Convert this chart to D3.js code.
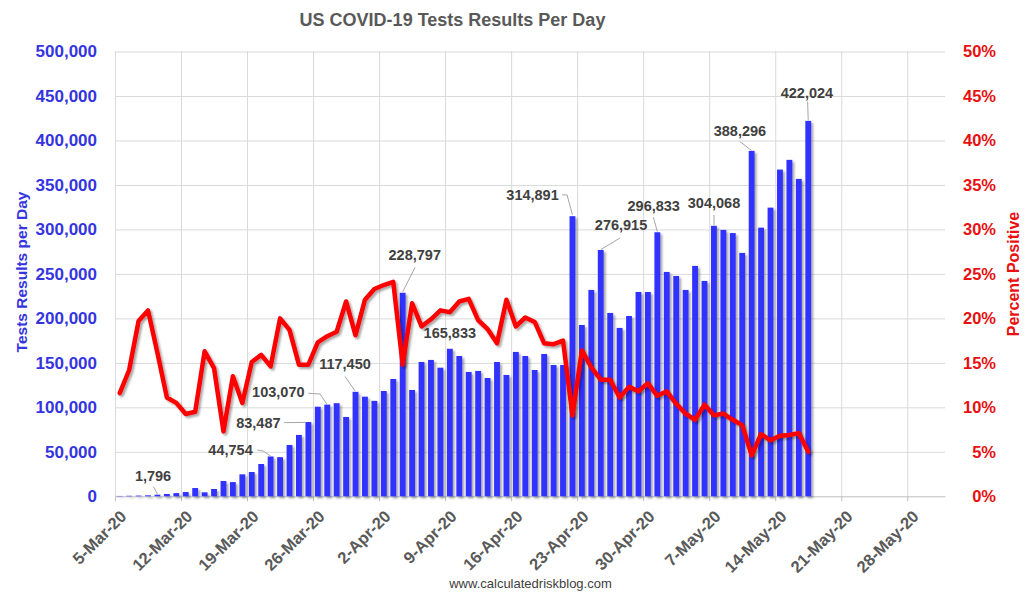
<!DOCTYPE html>
<html><head><meta charset="utf-8">
<script src="https://cdn.jsdelivr.net/npm/d3@7"></script>
<style>body{margin:0;background:#fff} svg{display:block;font-family:"Liberation Sans",Arial,sans-serif}</style>
</head><body>
<svg id="chart" width="1033" height="600"></svg>
<script>
// ---------- DATA ----------
const startDate = "2020-03-05";
const axisEndDate = "2020-06-01";
const tests = [
  400, 600, 800, 1100, 1796, 2600, 3600, 4800, 9300, 4500,
  8200, 17200, 16000, 24700, 27300, 36300, 44754, 44000, 57700, 69000,
  83487, 100700, 103070, 104700, 89200, 117450, 112000, 107300, 118400, 131900,
  228797, 119500, 151000, 153300, 144600, 165833, 157700, 139800, 140900, 133000,
  151000, 136400, 162300, 157700, 142000, 160000, 147600, 147600, 314891, 192600,
  232000, 276915, 206100, 189300, 202700, 229700, 229700, 296833, 252200, 247700,
  232000, 259000, 242100, 304068, 299500, 295900, 273600, 388296, 302000, 324500,
  367300, 378200, 356800, 422024
];
const pctPositive = [
  11.6, 14.2, 19.7, 20.9, 16.1, 11.1, 10.5, 9.25, 9.5, 16.3,
  14.4, 7.3, 13.5, 10.5, 15.1, 15.9, 14.6, 20.0, 18.7, 14.8,
  14.8, 17.3, 18.0, 18.5, 21.9, 18.1, 22.1, 23.3, 23.75, 24.1,
  14.8, 21.7, 19.1, 19.9, 20.9, 20.7, 21.9, 22.2, 19.8, 18.8,
  17.2, 22.1, 19.1, 20.1, 19.6, 17.2, 17.1, 17.5, 9.1, 16.4,
  14.5, 13.1, 13.1, 11.1, 12.3, 11.8, 12.7, 11.3, 11.8, 10.4,
  9.3, 8.6, 10.3, 9.1, 9.3, 8.6, 8.0, 4.6, 7.0, 6.3,
  6.8, 6.9, 7.1, 5.0
];
const tickLabels = ["5-Mar-20","12-Mar-20","19-Mar-20","26-Mar-20","2-Apr-20","9-Apr-20","16-Apr-20",
  "23-Apr-20","30-Apr-20","7-May-20","14-May-20","21-May-20","28-May-20"];
const leftTicks = [0,50000,100000,150000,200000,250000,300000,350000,400000,450000,500000];
const rightTicks = [0,5,10,15,20,25,30,35,40,45,50];
const annotatedDays = [4,16,20,22,25,30,35,48,51,57,63,67,73];

// ---------- LAYOUT (label offsets relative to bar top) ----------
const annLayout = {
  4:  {tx:-4.4, ty:-14.2, lead:[[-4,-8],[0,-0.5]]},
  16: {tx:-40.1, ty:-1, lead:[[-13.3,-6.5],[-7.6,-5.5],[0,-0.5]]},
  20: {tx:-50, ty:5.5, lead:[[-24.3,0.6],[-3,0.4]]},
  22: {tx:-48.9, ty:-8.1, lead:[[-18.9,-11.3],[-7.2,-10.6],[-0.5,-0.6]]},
  25: {tx:-10.5, ty:-22.8, lead:[[-10.5,-15.3],[-0.5,-1]]},
  30: {tx:12.1, ty:-32.6, lead:[[12.4,-25.5],[0,-0.8]]},
  35: {tx:0, ty:-10.3, lead:null},
  48: {tx:-39.9, ty:-16.1, lead:[[-10.4,-21.3],[-5.4,-21.3],[0,-1.3]]},
  51: {tx:20.3, ty:-19.8, lead:[[19.3,-12],[0.3,-0.5]]},
  57: {tx:-3.6, ty:-21.1, lead:[[-4,-15],[0,-0.6]]},
  63: {tx:0.1, ty:-17.4, lead:[[0.1,-10.9],[0.1,-0.4]]},
  67: {tx:-11.7, ty:-15.2, lead:[[-11.7,-9.3],[-0.2,-0.5]]},
  73: {tx:-1.3, ty:-23.2, lead:[[-0.6,-19.3],[0,-0.3]]}
};

const L = 115, R = 945, T = 51.5, B = 496.3;
const svg = d3.select("#chart");
svg.append("rect").attr("width",1033).attr("height",600).attr("fill","#fff");

const defs = svg.append("defs");
const f = defs.append("filter").attr("id","shadow").attr("x","-30%").attr("y","-10%").attr("width","160%").attr("height","130%");
f.append("feDropShadow").attr("dx",2).attr("dy",2).attr("stdDeviation",1.2).attr("flood-color","#000").attr("flood-opacity",0.35);

const parse = d3.utcParse("%Y-%m-%d");
const d0 = parse(startDate);
const x = d3.scaleUtc().domain([d0, parse(axisEndDate)]).range([L, R]);
const days = tests.map((_, i) => d3.utcDay.offset(d0, i));
const dayW = x(d3.utcDay.offset(d0,1)) - x(d0);
const xc = d => x(d) + dayW/2;
const yL = d3.scaleLinear().domain([0,500000]).range([B,T]);
const yR = d3.scaleLinear().domain([0,50]).range([B,T]);
const tickDates = tickLabels.map(s => d3.utcParse("%d-%b-%y")(s));

// gridlines
const gH = svg.append("g").attr("transform",`translate(${L},0)`)
  .call(d3.axisLeft(yL).tickValues(leftTicks.slice(1)).tickSize(-(R-L)).tickFormat(""));
gH.select(".domain").remove();
gH.selectAll("line").attr("stroke","#D9D9D9");
const gV = svg.append("g").attr("transform",`translate(0,${B})`)
  .call(d3.axisBottom(x).tickValues(tickDates).tickSizeInner(-(B-T)).tickSizeOuter(0).tickFormat(""));
gV.select(".domain").remove();
gV.selectAll("line").attr("stroke","#D9D9D9");

// bottom axis
const gX = svg.append("g").attr("transform",`translate(0,${B})`)
  .call(d3.axisBottom(x).tickValues(tickDates).tickSizeInner(5).tickSizeOuter(0)
    .tickFormat((d,i) => tickLabels[i]));
gX.select(".domain").attr("stroke","#BFBFBF");
gX.selectAll("line").attr("stroke","#BFBFBF");
gX.selectAll("text")
  .attr("text-anchor","end").attr("fill","#595959")
  .style("font-size","16.5px").style("font-weight","bold")
  .attr("y",0).attr("dy","0.35em")
  .attr("transform","translate(8,17) rotate(-45)");

// left axis
const gY = svg.append("g").attr("transform",`translate(${L},0)`)
  .call(d3.axisLeft(yL).tickValues(leftTicks).tickSize(0).tickPadding(18).tickFormat(d3.format(",")));
gY.select(".domain").remove();
gY.selectAll("text").attr("fill","#3535E0").style("font-size","17px").style("font-weight","bold");

// right axis
const gR = svg.append("g").attr("transform",`translate(${R},0)`)
  .call(d3.axisRight(yR).tickValues(rightTicks).tickSize(0).tickFormat(d => d + "%"));
gR.select(".domain").remove();
gR.selectAll("text").attr("fill","#E81010").attr("text-anchor","end").attr("x",51)
  .style("font-size","16.5px").style("font-weight","bold");

// bars
const bw = dayW * 0.62;
svg.append("g").attr("filter","url(#shadow)")
  .selectAll("rect").data(tests).join("rect")
  .attr("x",(v,i) => xc(days[i]) - bw/2)
  .attr("y",v => yL(v))
  .attr("width",bw)
  .attr("height",v => B - yL(v))
  .attr("fill","#3333FF");

// line
const line = d3.line().x((p,i) => xc(days[i])).y(p => yR(p));
svg.append("path").datum(pctPositive)
  .attr("d",line).attr("fill","none").attr("stroke","#FF0000")
  .attr("stroke-width",4.5).attr("stroke-linejoin","round").attr("stroke-linecap","round")
  .attr("filter","url(#shadow)");

// annotations
const fmt = d3.format(",");
const ann = svg.append("g");
annotatedDays.forEach(i => {
  const bx = xc(days[i]), by = yL(tests[i]);
  const lay = annLayout[i];
  if (lay.lead) {
    ann.append("path")
      .attr("d", d3.line()(lay.lead.map(p => [bx + p[0], by + p[1]])))
      .attr("fill","none").attr("stroke","#A6A6A6").attr("stroke-width",1);
  }
  ann.append("text").attr("x",bx + lay.tx).attr("y",by + lay.ty)
    .attr("text-anchor","middle").attr("fill","#404040")
    .style("font-size","14.5px").style("font-weight","bold")
    .text(fmt(tests[i]));
});

// titles
svg.append("text").attr("x",452.5).attr("y",26).attr("text-anchor","middle")
  .attr("fill","#595959").style("font-size","18px").style("font-weight","bold")
  .text("US COVID-19 Tests Results Per Day");
svg.append("text").attr("transform","translate(22,272) rotate(-90)").attr("dy","0.35em")
  .attr("text-anchor","middle").attr("fill","#3535E0")
  .style("font-size","15.5px").style("font-weight","bold").text("Tests Results per Day");
svg.append("text").attr("transform","translate(1013,274) rotate(-90)").attr("dy","0.35em")
  .attr("text-anchor","middle").attr("fill","#E81010")
  .style("font-size","16px").style("font-weight","bold").text("Percent Positive");
svg.append("text").attr("x",530.5).attr("y",588).attr("text-anchor","middle")
  .attr("fill","#404040").style("font-size","13px").text("www.calculatedriskblog.com");
</script>
</body></html>
